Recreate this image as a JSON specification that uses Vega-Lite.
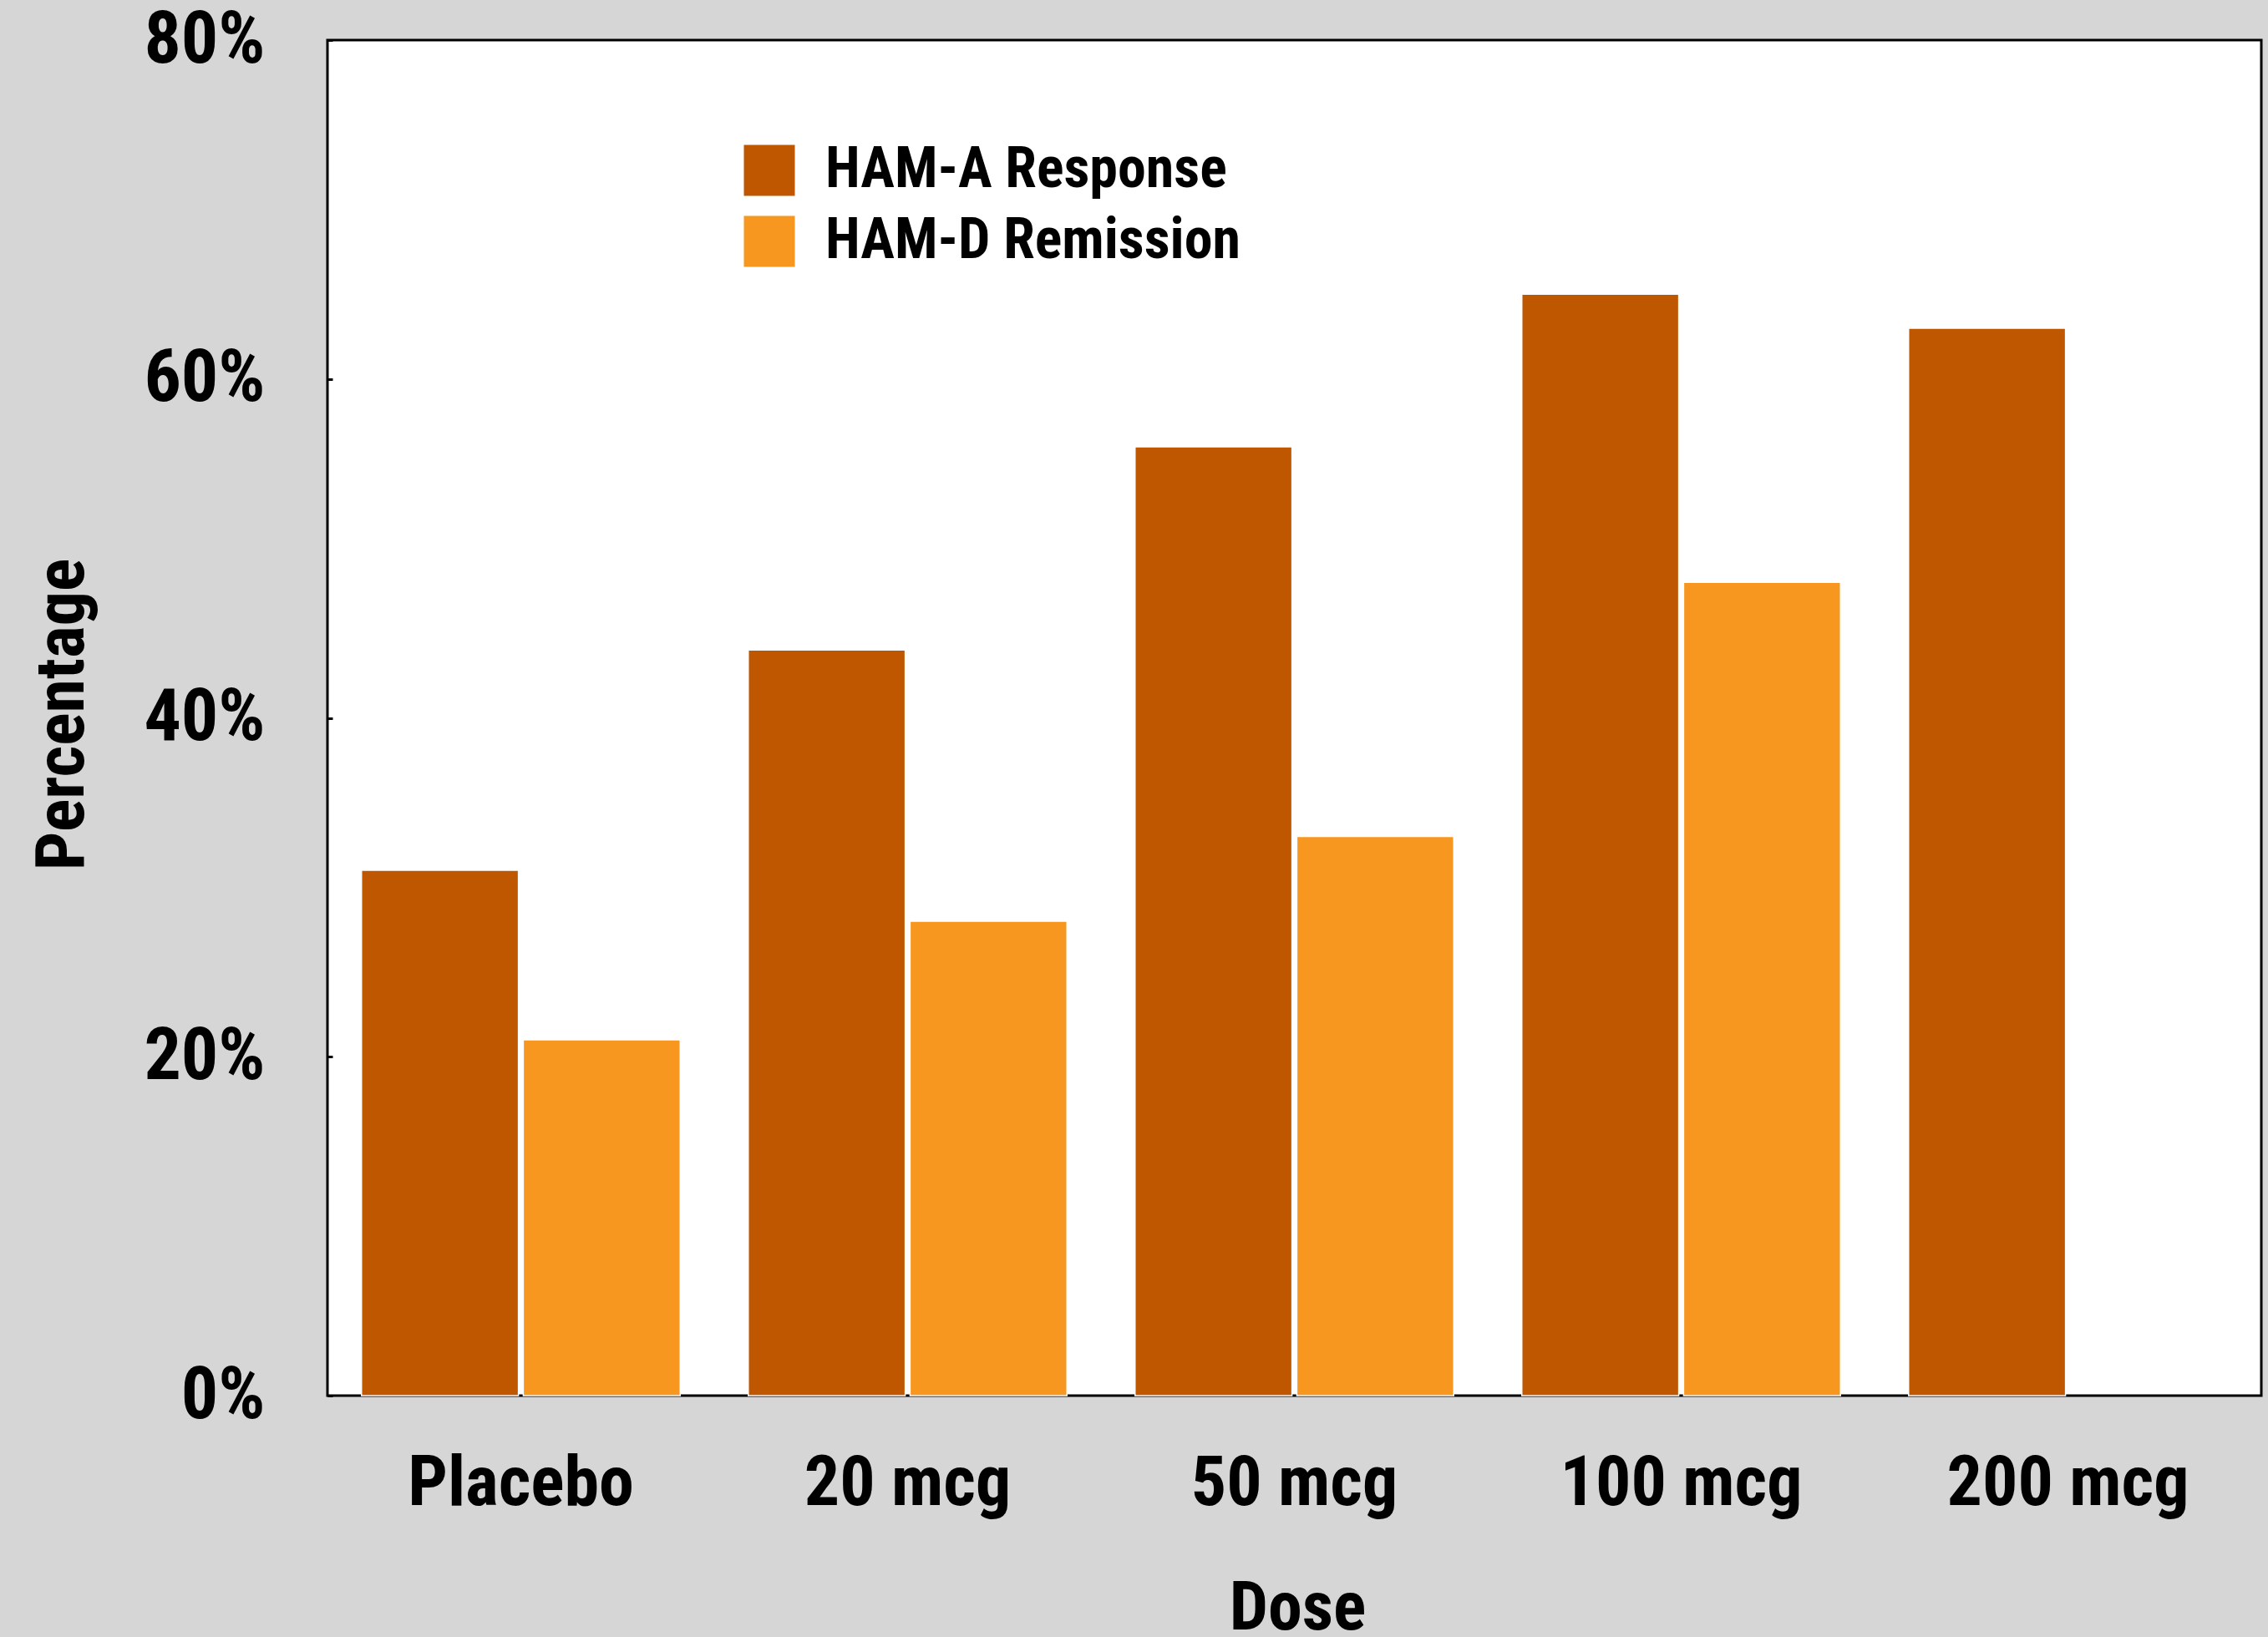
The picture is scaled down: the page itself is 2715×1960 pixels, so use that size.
{
  "$schema": "https://vega.github.io/schema/vega-lite/v6.json",
  "width": 2315,
  "height": 1623,
  "autosize": {"type": "none"},
  "padding": {"left": 392, "top": 48, "right": 8, "bottom": 289},
  "background": "#D6D6D6",
  "config": {
    "view": {"fill": "white", "stroke": "black", "strokeWidth": 3},
    "font": "Roboto Condensed, Liberation Sans Narrow, Roboto, sans-serif"
  },
  "data": {
    "values": [
      {"dose": "Placebo", "measure": "HAM-A Response", "pct": 31},
      {"dose": "Placebo", "measure": "HAM-D Remission", "pct": 21},
      {"dose": "20 mcg", "measure": "HAM-A Response", "pct": 44},
      {"dose": "20 mcg", "measure": "HAM-D Remission", "pct": 28},
      {"dose": "50 mcg", "measure": "HAM-A Response", "pct": 56},
      {"dose": "50 mcg", "measure": "HAM-D Remission", "pct": 33},
      {"dose": "100 mcg", "measure": "HAM-A Response", "pct": 65},
      {"dose": "100 mcg", "measure": "HAM-D Remission", "pct": 48},
      {"dose": "200 mcg", "measure": "HAM-A Response", "pct": 63}
    ]
  },
  "mark": {"type": "bar", "stroke": "white", "strokeWidth": 1.5},
  "encoding": {
    "x": {
      "field": "dose",
      "type": "nominal",
      "sort": ["Placebo", "20 mcg", "50 mcg", "100 mcg", "200 mcg"],
      "scale": {"paddingInner": 0.176, "paddingOuter": 0.088},
      "axis": {
        "title": "Dose",
        "labelAngle": 0,
        "ticks": false,
        "domain": false,
        "labelLimit": 0,
        "labelFontSize": 84,
        "labelFontWeight": "bold",
        "labelColor": "black",
        "labelBaseline": "alphabetic",
        "labelPadding": 130,
        "titleFontSize": 82,
        "titleFontWeight": "bold",
        "titleColor": "black",
        "titleX": 1161,
        "titleY": 279,
        "titleAlign": "center",
        "titleBaseline": "alphabetic"
      }
    },
    "xOffset": {
      "field": "measure",
      "type": "nominal",
      "scale": {"paddingInner": 0.03, "paddingOuter": 0}
    },
    "y": {
      "field": "pct",
      "type": "quantitative",
      "scale": {"domain": [0, 80], "nice": false},
      "axis": {
        "title": "Percentage",
        "values": [0, 20, 40, 60, 80],
        "labelExpr": "datum.value + '%'",
        "grid": false,
        "domain": false,
        "ticks": true,
        "tickSize": -6,
        "tickWidth": 3,
        "tickColor": "black",
        "labelLimit": 0,
        "labelFontSize": 88,
        "labelFontWeight": "bold",
        "labelColor": "black",
        "labelPadding": 81,
        "labelBaseline": "middle",
        "titleFontSize": 82,
        "titleFontWeight": "bold",
        "titleColor": "black",
        "titleAngle": -90,
        "titleX": -293,
        "titleY": 807,
        "titleAlign": "center",
        "titleBaseline": "alphabetic"
      }
    },
    "color": {
      "field": "measure",
      "type": "nominal",
      "scale": {"domain": ["HAM-A Response", "HAM-D Remission"], "range": ["#BF5600", "#F8971F"]},
      "legend": {
        "title": null,
        "orient": "none",
        "legendX": 495,
        "legendY": 122,
        "padding": 0,
        "symbolType": "square",
        "symbolSize": 3721,
        "symbolStrokeWidth": 0,
        "symbolOpacity": 1,
        "labelLimit": 0,
        "labelFontSize": 68,
        "labelFontWeight": "bold",
        "labelColor": "black",
        "labelOffset": 33,
        "rowPadding": 17
      }
    }
  }
}
